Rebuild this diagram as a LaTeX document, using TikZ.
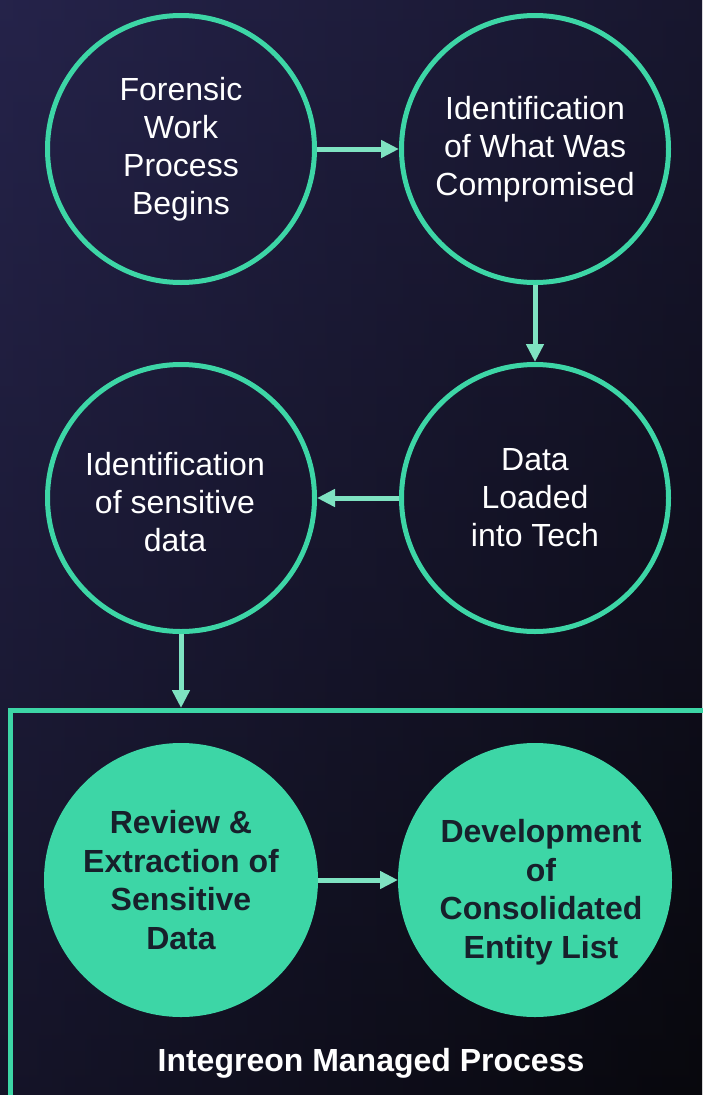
\documentclass[tikz,border=0pt]{standalone}
\usepackage{fontspec}
\setmainfont{Liberation Sans}
\usetikzlibrary{arrows.meta}
\definecolor{bgnavy}{HTML}{25234A}
\definecolor{bgmid}{HTML}{17162C}
\definecolor{bgdark}{HTML}{08080D}
\definecolor{ringgreen}{HTML}{3DD6A6}
\definecolor{flowgreen}{HTML}{7FE3C2}
\definecolor{inkdark}{HTML}{17202B}
\tikzset{
stage/.style={
	  draw=ringgreen, line width=5pt, circle, minimum size=267pt,
    inner sep=0pt, text=white, align=center,
    font=\fontsize{32}{38}\selectfont},
keystage/.style={
	  stage, draw=none, fill=ringgreen, minimum size=274pt, outer sep=0pt,
    text=inkdark, font=\fontsize{32}{38.5}\selectfont\bfseries},
keytext/.style={
	  text=inkdark, align=center, font=\fontsize{32}{38.5}\selectfont\bfseries},
flow/.style={
	  draw=flowgreen, line width=5pt, -{Triangle[length=18pt,width=17pt]}}
}

\begin{document}
\begin{tikzpicture}[x=1pt, y=-1pt]
	\useasboundingbox (0,0) rectangle (702,1095);
	% backdrop
	\shade[top color=bgnavy, middle color=bgmid, bottom color=bgdark] (0,0) rectangle (702,1095);
	\shade[left color=bgnavy, right color=bgdark, opacity=0.45] (0,0) rectangle (702,1095);
	% forensic stages
	\node[stage] (begin) at (181,149) {Forensic\\Work\\Process\\Begins};
	\node[stage] (scope) at (535,149) {Identification\\of What Was\\Compromised};
	\node[stage] (load) at (535,498) {Data\\Loaded\\into Tech};
	\node[stage] (sens) at (181,498) {};
	\node[text=white, align=center, font=\fontsize{32}{38}\selectfont] (senstext) at (175,502) {Identification\\of sensitive\\data};
	% managed part
	\coordinate (managed) at (181,708);
	\draw[ringgreen, line width=5pt] (712,710) -- (10,710) -- (10,1105);
	\node[keystage] (review) at (181,880) {Review \&\\Extraction of\\Sensitive\\Data};
	\node[keystage] (entity) at (535,880) {};
	\node[keytext] (entitytext) at (541,892) {Development\\of\\Consolidated\\Entity List};
	\node[text=white, font=\fontsize{32}{38}\selectfont\bfseries] (caption) at (371,1063) {Integreon Managed Process};
	\draw[flow] (begin) -- (scope);
	\draw[flow] (scope) -- (load);
	\draw[flow] (load) -- (sens);
	\draw[flow] (sens) -- (managed);
	\draw[flow] (review) -- (entity);
\end{tikzpicture}
\end{document}
